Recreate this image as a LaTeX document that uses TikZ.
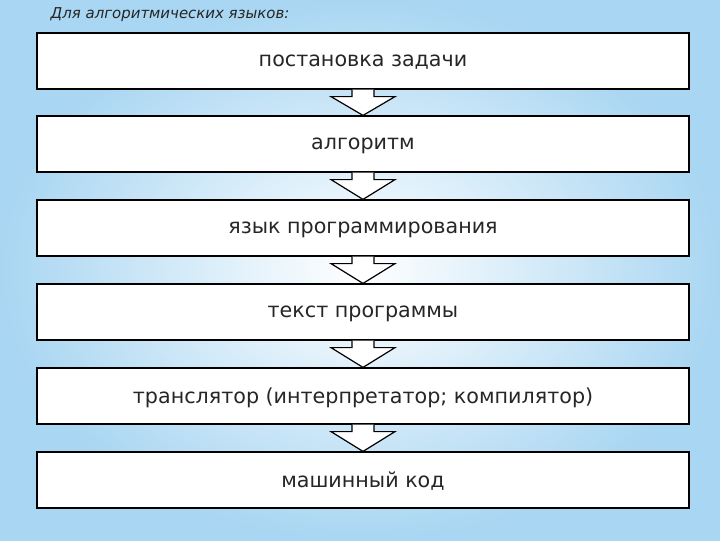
\documentclass[tikz,border=0pt]{standalone}
\usepackage{fontspec}
\setmainfont{DejaVu Sans}
\begin{document}
\begin{tikzpicture}[x=0.75pt,y=-0.75pt,
  stage/.style={draw=black,line width=0.9pt,fill=white,minimum width=652*0.75pt,minimum height=56*0.75pt,inner sep=0pt,font=\fontsize{15.5}{18}\selectfont,text=black!85,text depth=0pt},
  harrow/.style={draw=black,line width=0.9pt,fill=white}]
\definecolor{bgblue}{HTML}{A9D6F2}
\shade[inner color=white,outer color=bgblue] (0,0) rectangle (720,540);
\useasboundingbox (0,0) rectangle (720,540);
\node[anchor=west,font=\itshape\fontsize{11.2}{13}\selectfont,text=black!85] (title) at (46,15) {Для алгоритмических языков:};
\node[stage] (b1) at (363,61) {постановка задачи};
\node[stage] (b2) at (363,144) {алгоритм};
\node[stage] (b3) at (363,228) {язык программирования};
\node[stage] (b4) at (363,312) {текст программы};
\node[stage] (b5) at (363,396) {транслятор (интерпретатор; компилятор)};
\node[stage] (b6) at (363,480) {машинный код};
\foreach \a/\b in {b1/b2,b2/b3,b3/b4,b4/b5,b5/b6}{
  \draw[harrow] ([xshift=-11*0.75pt]\a.south) -- ++(0,7) -- ++(-21,0) -- (\b.north) -- ([xshift=11*0.75pt+21*0.75pt,yshift=-7*0.75pt]\a.south) -- ++(-21,0) -- ([xshift=11*0.75pt]\a.south);
}
\end{tikzpicture}
\end{document}
